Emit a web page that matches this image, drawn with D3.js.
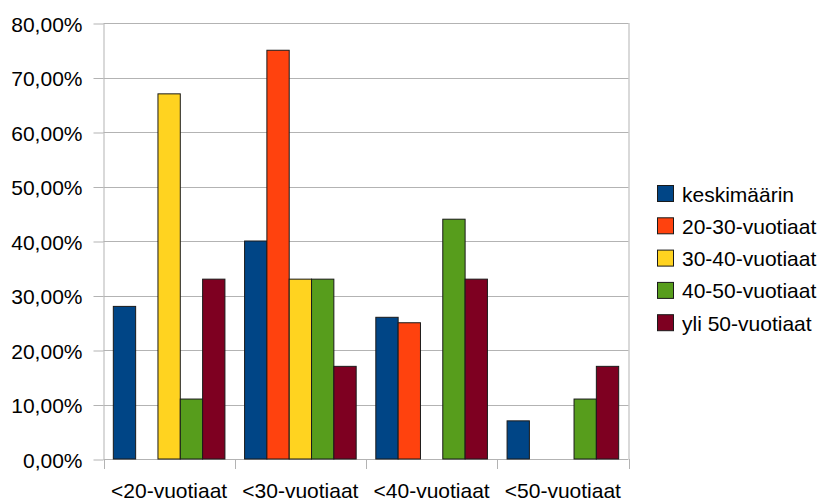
<!DOCTYPE html>
<html>
<head>
<meta charset="utf-8">
<script src="https://cdn.jsdelivr.net/npm/d3@7/dist/d3.min.js"></script>
<style>
  html, body { margin: 0; padding: 0; background: #fff; }
  svg { display: block; }
  text { font-family: "Liberation Sans", Arial, sans-serif; fill: #000; }
</style>
</head>
<body>
<svg id="chart" width="825" height="502"></svg>
<script>
// Age groups on the x axis
const categories = ["<20-vuotiaat", "<30-vuotiaat", "<40-vuotiaat", "<50-vuotiaat"];
// Series names (legend order)
const seriesNames = ["keskimäärin", "20-30-vuotiaat", "30-40-vuotiaat", "40-50-vuotiaat", "yli 50-vuotiaat"];
const seriesColors = ["#004586", "#ff420e", "#ffd320", "#579d1c", "#7e0021"];
// Percent values, one array per series, in category order
const keskimaarin   = [28, 40, 26, 7];
const v20_30        = [0, 75, 25, 0];
const v30_40        = [67, 33, 0, 0];
const v40_50        = [11, 33, 44, 11];
const yli50         = [33, 17, 33, 17];
const seriesValues = [keskimaarin, v20_30, v30_40, v40_50, yli50];
// Y axis ticks
const yTicks = [0, 10, 20, 30, 40, 50, 60, 70, 80];
const yTickLabels = ["0,00%", "10,00%", "20,00%", "30,00%", "40,00%", "50,00%", "60,00%", "70,00%", "80,00%"];

const svg = d3.select("#chart");
const plot = { left: 103.5, right: 628.5, top: 23, bottom: 459 };
const grid = "#b3b3b3";

const x0 = d3.scaleBand().domain(categories).range([plot.left, plot.right]).padding(0);
const x1 = d3.scaleBand().domain(seriesNames).range([0, x0.bandwidth()])
  .paddingInner(0).paddingOuter(0.44);
const y = d3.scaleLinear().domain([0, 80]).range([plot.bottom, plot.top]);

// Horizontal gridlines
svg.append("g").selectAll("line").data(yTicks).join("line")
  .attr("x1", plot.left).attr("x2", plot.right)
  .attr("y1", d => Math.round(y(d)) + 0.5).attr("y2", d => Math.round(y(d)) + 0.5)
  .attr("stroke", grid).attr("stroke-width", 1);

// Y axis
const yAxis = d3.axisLeft(y).tickValues(yTicks)
  .tickFormat((d, i) => yTickLabels[i]).tickSize(10).tickPadding(11);
const gy = svg.append("g").attr("transform", `translate(${plot.left},0.5)`).call(yAxis);
gy.select(".domain").attr("stroke", grid).attr("d", `M0.5,${plot.top}V${plot.bottom}`);
gy.selectAll(".tick line").attr("stroke", grid);
gy.selectAll(".tick text").style("font-size", "21px").attr("dy", "0.36em")
  .attr("font-family", "Liberation Sans, Arial, sans-serif");

// X axis: ticks at category boundaries
const bounds = categories.map(c => x0(c)).concat([plot.right]);
svg.append("g").selectAll("line").data(bounds).join("line")
  .attr("x1", d => Math.round(d) + 0.5).attr("x2", d => Math.round(d) + 0.5)
  .attr("y1", plot.bottom).attr("y2", plot.bottom + 10)
  .attr("stroke", grid);
svg.append("line")
  .attr("x1", plot.right + 0.5).attr("x2", plot.right + 0.5)
  .attr("y1", plot.top).attr("y2", plot.bottom)
  .attr("stroke", grid);
svg.append("g").selectAll("text").data(categories).join("text")
  .attr("x", d => x0(d) + x0.bandwidth() / 2)
  .attr("y", 498)
  .attr("text-anchor", "middle")
  .style("font-size", "21px")
  .text(d => d);

// Bars
const groups = svg.append("g").selectAll("g").data(categories).join("g")
  .attr("transform", d => `translate(${x0(d)},0)`);
groups.selectAll("rect")
  .data((c, ci) => seriesNames.map((s, si) => ({ s, si, v: seriesValues[si][ci] })).filter(d => d.v > 0))
  .join("rect")
  .attr("x", d => x1(d.s))
  .attr("y", d => y(d.v))
  .attr("width", x1.bandwidth())
  .attr("height", d => y(0) - y(d.v))
  .attr("fill", d => seriesColors[d.si])
  .attr("stroke", "#1a1a1a").attr("stroke-width", 1);

// Legend
const legend = svg.append("g").attr("transform", "translate(657,185)");
const rows = legend.selectAll("g").data(seriesNames).join("g")
  .attr("transform", (d, i) => `translate(0,${i * 32.3})`);
rows.append("rect").attr("x", 0.5).attr("y", 0.5).attr("width", 16).attr("height", 16)
  .attr("fill", (d, i) => seriesColors[i]).attr("stroke", "#1a1a1a");
rows.append("text").attr("x", 25).attr("y", 16.5)
  .style("font-size", "21px").text(d => d);
</script>
</body>
</html>
